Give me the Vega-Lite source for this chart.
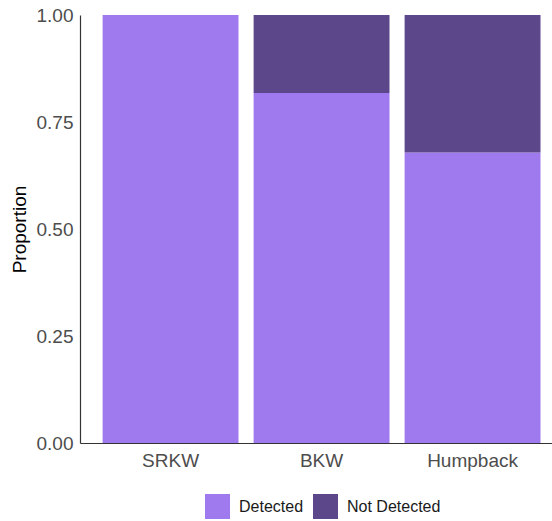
{
  "$schema": "https://vega.github.io/schema/vega-lite/v6.json",
  "width": 472,
  "height": 428,
  "autosize": "none",
  "padding": {"left": 80, "top": 15, "right": 0, "bottom": 78},
  "background": "white",
  "config": {"view": {"stroke": null}, "font": "Liberation Sans"},
  "data": {
    "values": [
      {"species": "SRKW", "status": "Detected", "proportion": 1.0},
      {"species": "SRKW", "status": "Not Detected", "proportion": 0.0},
      {"species": "BKW", "status": "Detected", "proportion": 0.818},
      {"species": "BKW", "status": "Not Detected", "proportion": 0.182},
      {"species": "Humpback", "status": "Detected", "proportion": 0.679},
      {"species": "Humpback", "status": "Not Detected", "proportion": 0.321}
    ]
  },
  "mark": {"type": "bar"},
  "encoding": {
    "x": {
      "field": "species",
      "type": "nominal",
      "sort": ["SRKW", "BKW", "Humpback"],
      "scale": {"paddingInner": 0.1, "paddingOuter": 0.113, "align": 0.663},
      "axis": {
        "title": null,
        "labelAngle": 0,
        "labelFontSize": 19,
        "labelColor": "#4d4d4d",
        "ticks": false,
        "labelPadding": 8,
        "domainColor": "#333333",
        "domainWidth": 1.2,
        "grid": false
      }
    },
    "y": {
      "field": "proportion",
      "type": "quantitative",
      "stack": "zero",
      "scale": {"domain": [0, 1], "nice": false},
      "axis": {
        "title": "Proportion",
        "values": [0, 0.25, 0.5, 0.75, 1],
        "format": ".2f",
        "labelFontSize": 19,
        "labelColor": "#4d4d4d",
        "labelPadding": 7,
        "ticks": false,
        "grid": false,
        "domainColor": "#333333",
        "domainWidth": 1.2,
        "titleFontSize": 19,
        "titleFontWeight": "normal",
        "titleColor": "#000000",
        "titlePadding": 7
      }
    },
    "color": {
      "field": "status",
      "type": "nominal",
      "scale": {"domain": ["Detected", "Not Detected"], "range": ["#9F79EE", "#5D478B"]},
      "legend": {
        "title": null,
        "orient": "none",
        "direction": "horizontal",
        "legendX": 125,
        "legendY": 479,
        "symbolType": "square",
        "symbolSize": 625,
        "symbolStrokeWidth": 0,
        "symbolOpacity": 1,
        "labelFontSize": 16,
        "labelColor": "#1a1a1a",
        "labelOffset": 9,
        "columnPadding": 9,
        "labelBaseline": "middle"
      }
    },
    "order": {"field": "status", "sort": "ascending"}
  }
}
